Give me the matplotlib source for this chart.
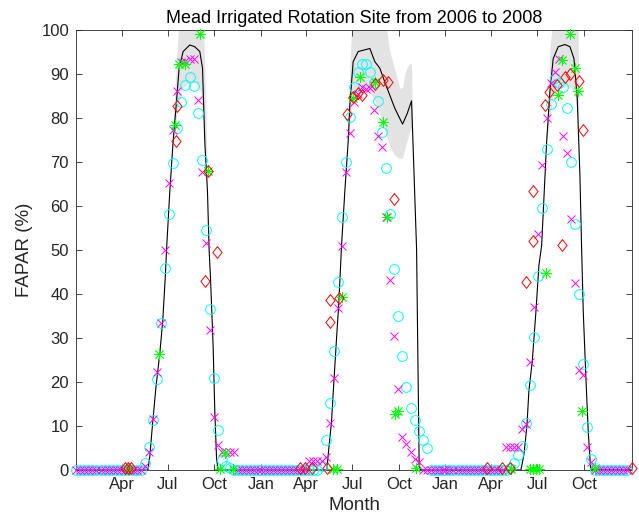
"""Mead irrigated rotation site - FAPAR 2006 to 2008"""
import numpy as np
import pandas as pd
import matplotlib
matplotlib.use("Agg")
import matplotlib.pyplot as plt

plt.rcParams["font.family"] = ["Liberation Sans", "DejaVu Sans"]

START = pd.Timestamp("2006-01-01")
YEARS = [2006, 2007, 2008]

# ------------------------------------------------------------------#
# 8-day composites (46 per year), values in %
cyan_2006 = [0, 0, 0, 0, 0, 0, 0, 0, 0, 0, 0, 0, 0, 0, 0, 0, 0,
             1.6, 5.3, 11.4, 20.7, 33.4, 45.8, 58.1, 69.7, 77.7, 83.6, 87.5,
             89.3, 87.3, 81.2, 70.5, 54.6, 36.6, 20.8, 9.2, 2.3, 0.8, 0.4,
             0, 0, 0, 0, 0, 0, 0]
cyan_2007 = [0, 0, 0, 0, 0, 0, 0, 0, 0, 0, 0, 0, 0, 0, 0,
             1.0, 6.8, 15.2, 27.0, 42.7, 57.6, 70.0, 80.3, 87.1, 90.5, 92.2,
             92.2, 90.5, 87.9, 83.9, 76.8, 68.6, 58.2, 45.7, 35.0, 26.0, 18.8,
             14.2, 11.4, 8.9, 6.8, 5.1,
             0, 0, 0, 0]
cyan_2008 = [0, 0, 0, 0, 0, 0, 0, 0, 0, 0, 0, 0, 0, 0, 0, 0,
             0.4, 1.7, 3.4, 5.5, 10.6, 19.3, 30.2, 44.1, 59.6, 73.0, 83.1,
             89.0, 87.9, 87.1, 82.3, 70.0, 56.0, 39.9, 24.2, 9.8, 2.6,
             0, 0, 0, 0, 0, 0, 0, 0, 0]

magenta_2006 = [0, 0, 0, 0, 0, 0, 0, 0, 0, 0, 0, 0, 0, 0, 0, 0, 0,
                0.8, 4.2, 11.6, 22.3, 33.4, 50.0, 65.2, 77.3, 86.2, 92.8, 93.0,
                93.3, 93.5, 84.0, 67.8, 51.7, 31.8, 12.1, 5.7, 4.2, 4.2, 4.2, 4.2,
                0, 0, 0, 0, 0, 0]
magenta_2007 = [0, 0, 0, 0, 0, 0, 0, 0, 0, 0, 0, 0,
                2.1, 2.1, 2.1, 2.1, 3.0, 10.6, 20.8, 36.9, 51.0, 67.8, 76.5,
                83.7, 85.5, 87.1, 86.7, 86.9, 81.8, 75.8, 73.3, 57.6, 43.2, 30.5,
                18.4, 7.6, 5.8, 4.0, 2.5, 1.9,
                0, 0, 0, 0, 0, 0]
magenta_2008 = [0, 0, 0, 0, 0, 0, 0, 0, 0, 0, 0, 0, 0, 0, 0,
                5.3, 5.3, 5.3, 5.3, 9.3, 10.5, 24.6, 37.1, 53.6, 69.3, 80.0,
                88.0, 90.5, 93.5, 75.8, 72.0, 57.0, 42.6, 22.7, 21.6, 5.3, 1.9,
                0, 0, 0, 0, 0, 0, 0, 0, 0]

# field samples: days since 2006-01-01
green_day = [101.9, 163.2, 194.9, 203.4, 214.6, 244.3, 260.7, 283.9, 293.8, 309.6,
             508, 515.3, 524.6, 547.6, 560.8, 590.5, 605.7, 613.6, 630, 636, 671.6,
             860.6, 897, 903, 909, 915, 928.8, 953.1, 959.8, 976.3, 986.2, 992.7,
             999.4, 1025.7]
green_val = [0.3, 26.4, 78.4, 92.2, 92.2, 99.0, 68.0, 0.2, 3.8, 0.3,
             0.2, 0.2, 39.4, 84.5, 89.4, 88.1, 79.2, 57.6, 12.8, 13.3, 0.4,
             0.3, 0.3, 0.3, 0.3, 0.3, 44.7, 85.2, 93.2, 99.2, 91.4, 86.1,
             13.3, 0.4]

red_day = [96, 101.9, 107.8, 196.8, 198.8, 254.2, 260.7, 278.5,
           442.1, 452, 465.3, 494.9, 501.5, 501.5, 519.9, 535.7, 547.6, 556.3,
           564.2, 590.5, 605.7, 616.8, 628.1,
           812, 842, 858, 889.2, 903.7, 903.7, 927.1, 935.6, 951.4, 960.2,
           966.4, 976.3, 994.1, 1002.6, 1098.3]
red_val = [0.5, 0.5, 0.5, 74.8, 82.8, 43.0, 68.0, 49.6,
           0.4, 0.4, 0.4, 0.4, 38.6, 33.6, 39.0, 81.0, 84.8, 85.6,
           85.2, 87.7, 88.6, 88.1, 61.7,
           0.4, 0.4, 0.4, 42.7, 63.4, 52.0, 83.0, 86.0, 87.5, 51.1,
           89.4, 89.9, 88.4, 77.3, 0.4]

# modelled FAPAR (black line)
line_day = [0, 141.4, 145.4, 149.4, 157.3, 165.2, 171.1, 176.1, 179, 185, 191.5,
            198.2, 203.4, 211.3, 224.5, 234.4, 244.3, 249.7, 254.2, 259.5, 262.7,
            265.5, 270.6, 274, 277.4, 280.5,
            495.5, 499.5, 504.8, 509.4, 515.3, 518.7, 521.3, 524.6, 531.1, 537.7,
            541, 547.6, 557.5, 570.7, 580.6, 590.5, 600.4, 613.6, 630, 645.3,
            654.4, 663.1, 673, 678.1, 680.5,
            879.3, 885.3, 891.2, 895.1, 901.7, 909, 915, 920.3, 930.2, 936.7,
            943.2, 953.1, 966.4, 976.3, 984.2, 990.7, 996, 999.4, 1002.6, 1007.9,
            1012.5, 1017.2, 1099]
line_val = [0, 0, 3, 8.5, 18.5, 26.5, 34, 44, 51, 63.3, 74.6,
            83.7, 91.3, 95.1, 96.6, 96.2, 95.1, 91.3, 74.6, 63.3, 50.2,
            43.6, 28.4, 13.3, 2.7, 0,
            0, 5, 11, 20, 31, 37, 43, 51, 63.3, 74.6,
            83, 92.8, 95.1, 95.5, 95.8, 92.8, 91.3, 87.1, 82.2, 78.6,
            81, 83.9, 50.2, 1.1, 0,
            0, 3.5, 10, 18, 24.6, 36, 46.6, 51, 74.6, 86,
            93.5, 96.2, 96.7, 96.2, 93.5, 84.5, 67, 50.2, 36, 20.8,
            8.7, 0.2, 0]

# uncertainty band around the peak of each season
band06_day = [191.5, 196.8, 201.8, 210.7, 224.5, 236.4, 246.3, 252.2, 257.2, 259.1]
band06_hi = [79, 90, 100, 105, 106, 106, 104, 100, 79, 64]
band06_lo = [74.6, 79, 83, 87, 88, 88, 86, 78, 68, 63.5]

band07_day = [537.7, 541, 544.4, 547.6, 557.5, 570.7, 580.6, 590.5, 600.4, 613.6,
              620.2, 630, 639.9, 645.3, 649.8, 654.4, 659.6, 663.1, 664.7]
band07_hi = [75, 92, 100, 104, 108, 110, 110, 106, 103, 100,
             95, 91, 86.7, 87, 90, 91.5, 92.4, 92.4, 78.5]
band07_lo = [74.6, 78, 82, 85, 87, 87, 86, 84, 81, 76,
             73.5, 71.5, 70.8, 71, 73, 75, 77, 78, 78.5]

band08_day = [930.2, 936.7, 940.1, 943.2, 953.1, 966.4, 976.3, 984.2, 990.7, 992.7, 994.1]
band08_hi = [76, 96, 100, 103, 106, 107, 106, 104, 100.5, 100, 74]
band08_lo = [74.6, 80, 83, 85, 87, 87, 87, 86, 82, 77, 73.5]

XTICKS = pd.date_range("2006-04-01", "2008-10-01", freq="QS")

# MATLAB-style diamond (taller than wide)
DIAMOND = [(0, 1), (0.78, 0), (0, -1), (-0.78, 0), (0, 1)]


def to_dates(days):
    return (START + pd.to_timedelta(np.asarray(days, float), unit="D")).to_numpy()


def composite_dates():
    out = []
    for y in YEARS:
        out.append(pd.Timestamp(f"{y}-01-01") + pd.to_timedelta(np.arange(46) * 8, unit="D"))
    return np.concatenate([d.to_numpy() for d in out])


fig = plt.figure(figsize=(6.39, 5.25), dpi=100)
ax = fig.add_axes([76 / 639, 55 / 525, 556 / 639, 440 / 525])

for d, lo, hi in [(band06_day, band06_lo, band06_hi),
                  (band07_day, band07_lo, band07_hi),
                  (band08_day, band08_lo, band08_hi)]:
    ax.fill_between(to_dates(d), lo, hi, color="#e3e3e3", lw=0, zorder=1)

ax.plot(to_dates(line_day), line_val, color="black", lw=0.8, zorder=2)

grid = composite_dates()
cyan = cyan_2006 + cyan_2007 + cyan_2008
magenta = magenta_2006 + magenta_2007 + magenta_2008

ax.plot(grid, cyan, "o", ms=7, mfc="none", mec="#00ffff", mew=0.7,
        clip_on=False, zorder=3)
ax.plot(grid, magenta, "x", ms=6, color="#ff00ff", mew=0.7,
        clip_on=False, zorder=3)
ax.plot(to_dates(green_day), green_val, ls="none", marker=(8, 2, 0), ms=8,
        color="#00ff00", mew=0.6, clip_on=False, zorder=3)
ax.plot(to_dates(red_day), red_val, ls="none", marker=DIAMOND, ms=8.5,
        mfc="none", mec="#ff0000", mew=0.7, clip_on=False, zorder=3)

ax.set_xlim(to_dates([-0.5, 1099]))
ax.set_ylim(0, 100)
ax.set_yticks(np.arange(0, 101, 10))
ax.set_xticks(XTICKS.to_numpy())
ax.set_xticklabels([d.strftime("%b") for d in XTICKS])

for s in ax.spines.values():
    s.set_color("#262626")
    s.set_linewidth(0.6)
ax.tick_params(direction="in", length=4, width=0.6, colors="#262626",
               top=True, right=True, labelsize=12, pad=5)
for lab in ax.get_xticklabels() + ax.get_yticklabels():
    lab.set_color("#262626")

ax.set_title("Mead Irrigated Rotation Site from 2006 to 2008", fontsize=13, pad=5)
ax.set_xlabel("Month", fontsize=13.5, color="#262626", labelpad=4)
ax.set_ylabel("FAPAR (%)", fontsize=13.5, color="#262626", labelpad=6)

fig.savefig("out.png", dpi=100)
